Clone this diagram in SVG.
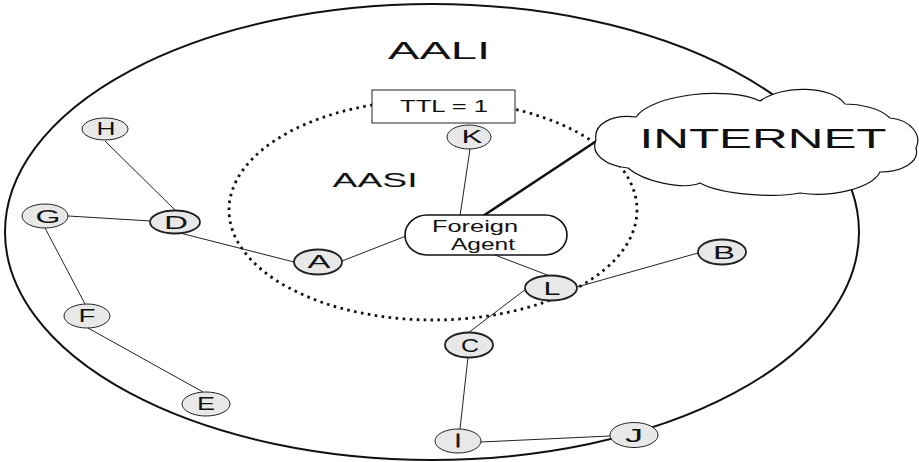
<svg xmlns="http://www.w3.org/2000/svg" width="919" height="462" viewBox="0 0 919 462">
  <style>
    .area { fill: none; stroke: #111; stroke-width: 2; }
    .scope { fill: none; stroke: #111; stroke-width: 2.8; stroke-dasharray: 2.6 4.4; }
    .link { fill: none; stroke: #222; stroke-width: 1; }
    .trunk { fill: none; stroke: #111; stroke-width: 2.6; }
    .node ellipse { fill: #e8e8e8; stroke: #222; stroke-width: 1; }
    .node.router ellipse { stroke-width: 1.8; }
    .label { font-family: "Liberation Sans", Arial, sans-serif; fill: #111; text-anchor: middle; }
    .nl { font-size: 18px; }
  </style>

  <!-- outer administrative area -->
  <ellipse class="area" cx="432" cy="232" rx="427" ry="228"/>
  <text class="label" x="439" y="59" font-size="24" textLength="102" lengthAdjust="spacingAndGlyphs">AALI</text>

  <!-- TTL-limited scope -->
  <ellipse class="scope" cx="433" cy="210" rx="204" ry="110"/>
  <text class="label" x="375" y="187" font-size="20" textLength="85" lengthAdjust="spacingAndGlyphs">AASI</text>

  <g id="connectors">
    <line class="link" x1="105" y1="141" x2="175" y2="210"/>
    <line class="link" x1="68" y1="216" x2="151" y2="221"/>
    <line class="link" x1="45" y1="228" x2="85" y2="304"/>
    <line class="link" x1="88" y1="328" x2="203" y2="392"/>
    <line class="link" x1="180" y1="233" x2="294" y2="262"/>
    <line class="link" x1="342" y1="261" x2="406" y2="236"/>
    <line class="link" x1="470" y1="149" x2="460" y2="216"/>
    <line class="trunk" x1="483" y1="216" x2="598" y2="140"/>
    <line class="link" x1="487" y1="252" x2="550" y2="276"/>
    <line class="link" x1="577" y1="287" x2="698" y2="253"/>
    <line class="link" x1="526" y1="289" x2="468" y2="333"/>
    <line class="link" x1="468" y1="357" x2="460" y2="429"/>
    <line class="link" x1="481" y1="442" x2="610" y2="436"/>
  </g>

  <g id="ttl">
    <rect x="372" y="90" width="143" height="33" fill="#fff" stroke="#222" stroke-width="1"/>
    <text class="label" x="444" y="112" font-size="17" textLength="88" lengthAdjust="spacingAndGlyphs">TTL = 1</text>
  </g>

  <g id="internet">
    <path d="M596 140 C593 124 612 114 636 117 C652 94 728 86 760 101 C784 84 832 86 845 104 C860 104 880 108 890 118 C912 120 922 136 916 148 C920 162 902 172 880 172 C872 188 832 198 800 193 C776 198 722 195 700 183 C684 190 644 182 628 168 C606 166 590 154 596 140 Z" fill="#fff" stroke="#111" stroke-width="1.2"/>
    <text class="label" x="763" y="148" font-size="28" textLength="247" lengthAdjust="spacingAndGlyphs">INTERNET</text>
  </g>

  <g id="foreign-agent">
    <rect x="405" y="215" width="162" height="40" rx="22" ry="20" fill="#fff" stroke="#111" stroke-width="1.6"/>
    <text class="label" x="475" y="232" font-size="16" textLength="86" lengthAdjust="spacingAndGlyphs">Foreign</text>
    <text class="label" x="483" y="250" font-size="16" textLength="64" lengthAdjust="spacingAndGlyphs">Agent</text>
  </g>

  <g id="node-H" class="node">
    <ellipse cx="105" cy="129" rx="23" ry="11"/>
    <text class="label nl" x="106" y="135" textLength="19" lengthAdjust="spacingAndGlyphs">H</text>
  </g>
  <g id="node-G" class="node">
    <ellipse cx="45" cy="216" rx="23" ry="12"/>
    <text class="label nl" x="48" y="223" textLength="25" lengthAdjust="spacingAndGlyphs">G</text>
  </g>
  <g id="node-D" class="node router">
    <ellipse cx="175" cy="222" rx="25" ry="11.5"/>
    <text class="label nl" x="176" y="229" textLength="24" lengthAdjust="spacingAndGlyphs">D</text>
  </g>
  <g id="node-F" class="node">
    <ellipse cx="87" cy="316" rx="23" ry="12"/>
    <text class="label nl" x="87" y="322" textLength="17" lengthAdjust="spacingAndGlyphs">F</text>
  </g>
  <g id="node-E" class="node">
    <ellipse cx="206" cy="404" rx="24" ry="12"/>
    <text class="label nl" x="206" y="410" textLength="18" lengthAdjust="spacingAndGlyphs">E</text>
  </g>
  <g id="node-A" class="node router">
    <ellipse cx="318" cy="262" rx="24" ry="12.5"/>
    <text class="label nl" x="319" y="268" textLength="23" lengthAdjust="spacingAndGlyphs">A</text>
  </g>
  <g id="node-K" class="node">
    <ellipse cx="469" cy="137" rx="22" ry="12"/>
    <text class="label nl" x="472" y="143" textLength="21" lengthAdjust="spacingAndGlyphs">K</text>
  </g>
  <g id="node-L" class="node router">
    <ellipse cx="551" cy="288" rx="26" ry="12.5"/>
    <text class="label nl" x="552" y="295" textLength="17" lengthAdjust="spacingAndGlyphs">L</text>
  </g>
  <g id="node-B" class="node router">
    <ellipse cx="722" cy="252" rx="24" ry="12.5"/>
    <text class="label nl" x="724" y="259" textLength="22" lengthAdjust="spacingAndGlyphs">B</text>
  </g>
  <g id="node-C" class="node router">
    <ellipse cx="469" cy="345" rx="24" ry="12.5"/>
    <text class="label nl" x="470" y="352" textLength="18" lengthAdjust="spacingAndGlyphs">C</text>
  </g>
  <g id="node-I" class="node">
    <ellipse cx="458" cy="441" rx="23" ry="12"/>
    <text class="label nl" x="458" y="447" stroke="#111" stroke-width="1" textLength="5" lengthAdjust="spacingAndGlyphs">I</text>
  </g>
  <g id="node-J" class="node">
    <ellipse cx="634" cy="435" rx="24" ry="12.5"/>
    <text class="label nl" x="634" y="442" textLength="18" lengthAdjust="spacingAndGlyphs">J</text>
  </g>
</svg>
